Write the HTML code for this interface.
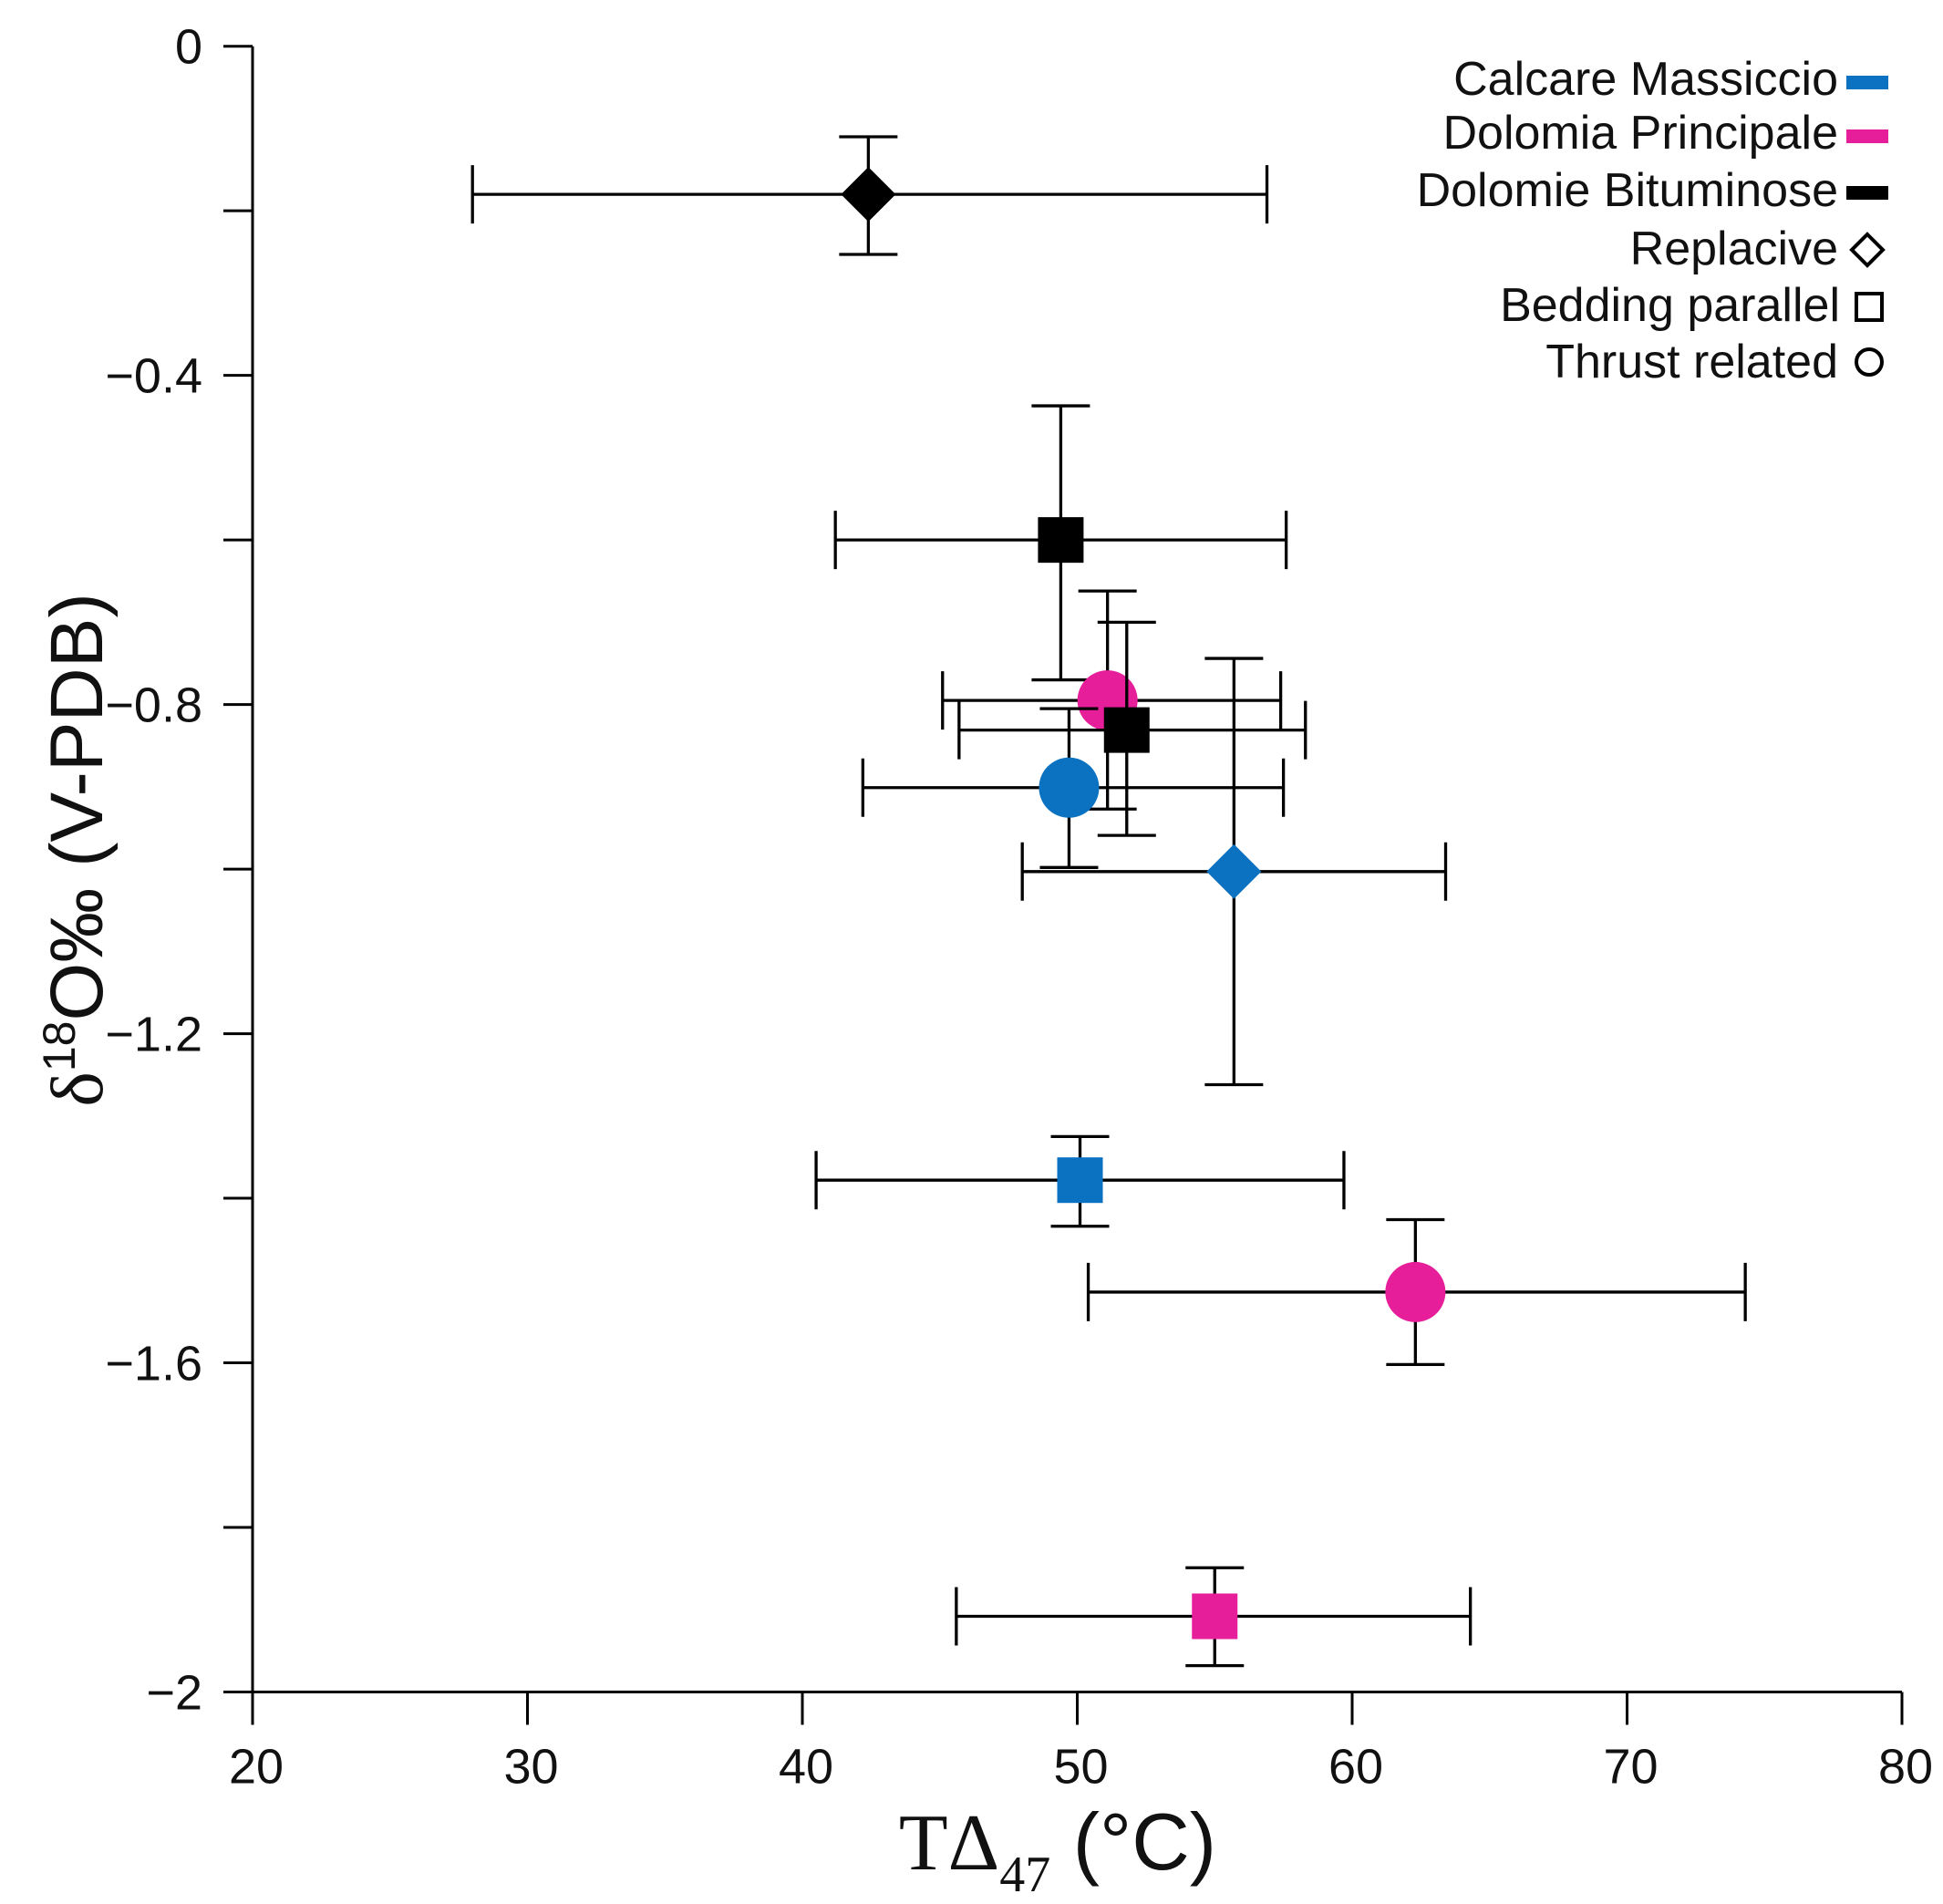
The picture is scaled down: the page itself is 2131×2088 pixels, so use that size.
<!DOCTYPE html>
<html><head><meta charset="utf-8"><style>
html,body{margin:0;padding:0;background:#fff;}
svg{display:block;}
text{font-family:"Liberation Sans",sans-serif;fill:#111;}
</style></head><body>
<svg id="chart" width="2131" height="2088" viewBox="0 0 2131 2088" xmlns="http://www.w3.org/2000/svg">
  <g id="axes"></g>
  <g id="marks"></g>
  <text x="1160" y="2050" text-anchor="middle" font-size="88"><tspan font-family="Liberation Serif">TΔ</tspan><tspan font-family="Liberation Serif" font-size="56" dy="24">47</tspan><tspan dy="-24"> (°C)</tspan></text>
  <text transform="translate(112,932) rotate(-90)" text-anchor="middle" font-size="82"><tspan font-family="Liberation Serif">δ</tspan><tspan font-size="50" dy="-30">18</tspan><tspan dy="30">O‰ (V-PDB)</tspan></text>
  <g font-size="52">
    <g><text x="2016" y="104" text-anchor="end">Calcare Massiccio</text><rect x="2025" y="83" width="46" height="15" fill="#0a72c0"/></g>
    <g><text x="2016" y="163" text-anchor="end">Dolomia Principale</text><rect x="2025" y="142" width="46" height="15" fill="#e61e9a"/></g>
    <g><text x="2016" y="226" text-anchor="end">Dolomie Bituminose</text><rect x="2025" y="204" width="46" height="15" fill="#000"/></g>
    <g><text x="2016" y="290" text-anchor="end">Replacive</text><polygon points="2048,257 2065,274 2048,291 2031,274" fill="none" stroke="#000" stroke-width="4"/></g>
    <g><text x="2018" y="352" text-anchor="end">Bedding parallel</text><rect x="2036" y="322" width="28" height="29" fill="none" stroke="#000" stroke-width="4"/></g>
    <g><text x="2016" y="414" text-anchor="end">Thrust related</text><circle cx="2050" cy="397" r="14" fill="none" stroke="#000" stroke-width="4"/></g>
  </g>
</svg>
<script>
const xTicks = [20,30,40,50,60,70,80];
const yTicks = [0,-0.2,-0.4,-0.6,-0.8,-1.0,-1.2,-1.4,-1.6,-1.8,-2.0];
const yTickLabels = ["0","","\u22120.4","","\u22120.8","","\u22121.2","","\u22121.6","","\u22122"];
const pointNames = ["bituminose-replacive","bituminose-bedding-1","principale-thrust-1","bituminose-bedding-2","massiccio-thrust","massiccio-replacive","massiccio-bedding","principale-thrust-2","principale-bedding"];
const formations = ["bit","bit","pri","bit","cal","cal","cal","pri","pri"];
const shapes = ["diamond","square","circle","square","circle","diamond","square","circle","square"];
const xVals = [42.4,49.4,51.1,51.8,49.7,55.7,50.1,62.3,55.0];
const xLow = [28.0,41.2,45.1,45.7,42.2,48.0,40.5,50.4,45.6];
const xHigh = [56.9,57.6,57.4,58.3,57.5,63.4,59.7,74.3,64.3];
const yVals = [-0.18,-0.60,-0.795,-0.831,-0.901,-1.003,-1.378,-1.514,-1.908];
const yLow = [-0.253,-0.77,-0.927,-0.959,-0.998,-1.262,-1.434,-1.602,-1.968];
const yHigh = [-0.11,-0.437,-0.662,-0.70,-0.805,-0.744,-1.325,-1.426,-1.849];

const NS="http://www.w3.org/2000/svg";
const X0=277,X1=2086,Y0=50.7,Y1=1855.5;
const xs=v=>X0+(v-20)/60*(X1-X0);
const ys=v=>Y0+(0-v)/2*(Y1-Y0);
const colors={cal:"#0a72c0",pri:"#e61e9a",bit:"#000"};
function mk(tag,attrs,parent){const e=document.createElementNS(NS,tag);for(const k in attrs)e.setAttribute(k,attrs[k]);parent.appendChild(e);return e;}
const axes=document.getElementById('axes');
const marks=document.getElementById('marks');
let e=mk('line',{x1:X0,y1:Y0,x2:X0,y2:Y1,stroke:"#000","stroke-width":3},axes);


e=mk('line',{x1:X0-32,y1:Y1,x2:X1,y2:Y1,stroke:"#000","stroke-width":3},axes);


yTicks.forEach((v,i)=>{
  const t=mk('line',{x1:X0-32,y1:ys(v),x2:X0,y2:ys(v),stroke:"#000","stroke-width":3},axes);
  
  
  if(yTickLabels[i]){
    const l=mk('text',{x:X0-55,y:ys(v)+19,"text-anchor":"end","font-size":54},axes);
    l.textContent=yTickLabels[i];
    
    
  }
});
xTicks.forEach(v=>{
  const t=mk('line',{x1:xs(v),y1:Y1,x2:xs(v),y2:Y1+36,stroke:"#000","stroke-width":3},axes);
  
  
  const l=mk('text',{x:xs(v)+4,y:Y1+100,"text-anchor":"middle","font-size":54},axes);
  l.textContent=String(v);
  
  
});
for(let i=0;i<xVals.length;i++){
  const g=mk('g',{},marks);
  
  
  const cx=xs(xVals[i]),cy=ys(yVals[i]);
  const st={stroke:"#000","stroke-width":3.3};
  const hb=mk('line',Object.assign({x1:xs(xLow[i]),y1:cy,x2:xs(xHigh[i]),y2:cy},st),g);
  
  
  [xLow[i],xHigh[i]].forEach(v=>{const c=mk('line',Object.assign({x1:xs(v),y1:cy-32,x2:xs(v),y2:cy+32},st),g);
    
    });
  const vb=mk('line',Object.assign({x1:cx,y1:ys(yLow[i]),x2:cx,y2:ys(yHigh[i])},st),g);
  
  
  [yLow[i],yHigh[i]].forEach(v=>{const c=mk('line',Object.assign({x1:cx-32,y1:ys(v),x2:cx+32,y2:ys(v)},st),g);
    
    });
  const col=colors[formations[i]];
  let m;
  if(shapes[i]==='circle') m=mk('circle',{cx:cx,cy:cy,r:33,fill:col},g);
  else if(shapes[i]==='square') m=mk('rect',{x:cx-25,y:cy-25,width:50,height:50,fill:col},g);
  else m=mk('polygon',{points:`${cx},${cy-30} ${cx+30},${cy} ${cx},${cy+30} ${cx-30},${cy}`,fill:col},g);
  
  
}
</script>
</body></html>
